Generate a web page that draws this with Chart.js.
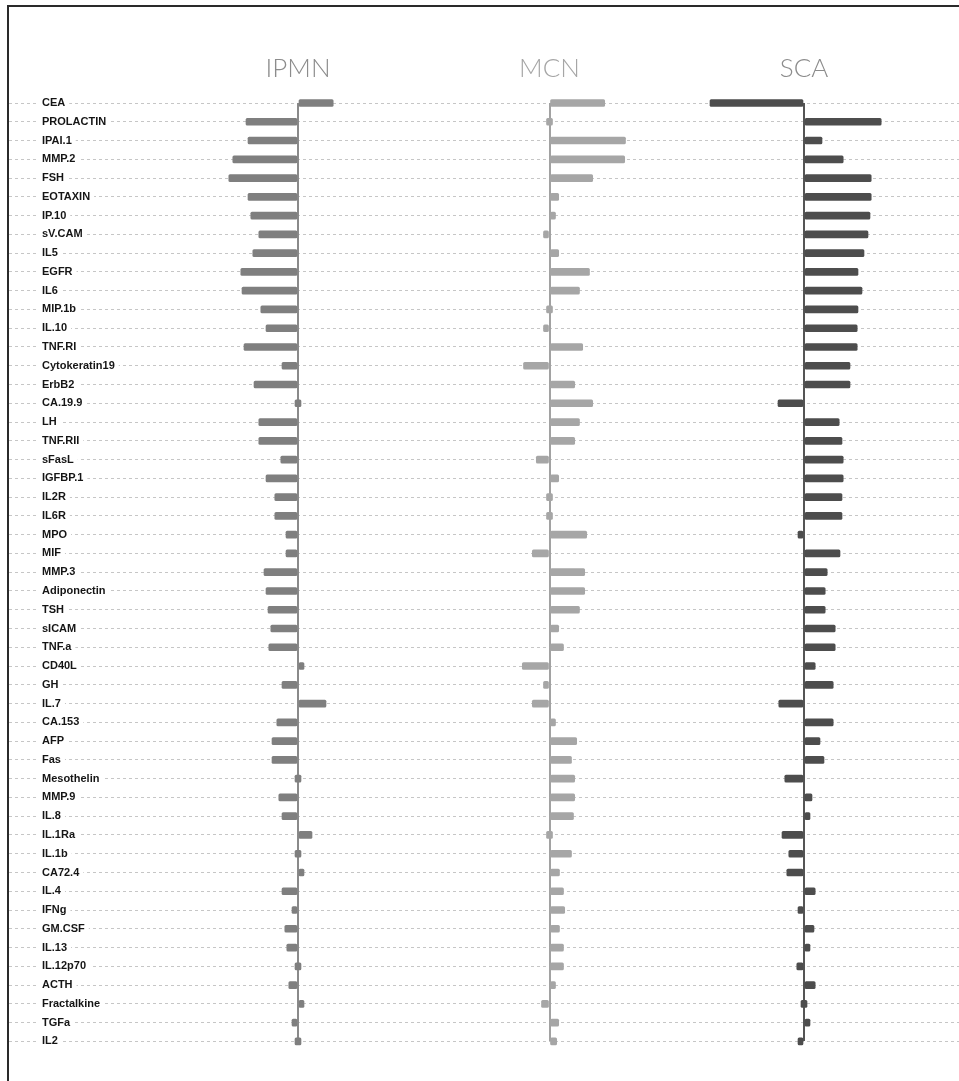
<!DOCTYPE html>
<html>
<head>
<meta charset="utf-8">
<script src="https://cdn.jsdelivr.net/npm/chart.js@4/dist/chart.umd.min.js"></script>
<style>
  html, body { margin: 0; padding: 0; background: #fff; }
  #wrap { position: relative; width: 959px; height: 1081px; overflow: hidden; }
  #frame { position: absolute; left: 7px; top: 5px; right: -10px; bottom: -10px;
           border-top: 2px solid #2a2a2a; border-left: 2px solid #2a2a2a; pointer-events: none; }
  canvas { position: absolute; left: 0; top: 0; }
</style>
</head>
<body>
<div id="wrap">
  <canvas id="chart" width="959" height="1081"></canvas>
  <div id="frame"></div>
</div>
<script>
// Analytes, top to bottom
const categories = [
  'CEA', 'PROLACTIN', 'IPAI.1', 'MMP.2', 'FSH', 'EOTAXIN', 'IP.10', 'sV.CAM', 'IL5', 'EGFR',
  'IL6', 'MIP.1b', 'IL.10', 'TNF.RI', 'Cytokeratin19', 'ErbB2', 'CA.19.9', 'LH', 'TNF.RII', 'sFasL',
  'IGFBP.1', 'IL2R', 'IL6R', 'MPO', 'MIF', 'MMP.3', 'Adiponectin', 'TSH', 'sICAM', 'TNF.a',
  'CD40L', 'GH', 'IL.7', 'CA.153', 'AFP', 'Fas', 'Mesothelin', 'MMP.9', 'IL.8', 'IL.1Ra',
  'IL.1b', 'CA72.4', 'IL.4', 'IFNg', 'GM.CSF', 'IL.13', 'IL.12p70', 'ACTH', 'Fractalkine', 'TGFa',
  'IL2'
];

// Per-panel values (same order as categories)
const ipmnValues = [
  0.88, -1.30, -1.25, -1.63, -1.73, -1.25, -1.18, -0.98, -1.13, -1.43,
  -1.40, -0.93, -0.80, -1.35, -0.40, -1.10, 0, -0.98, -0.98, -0.43,
  -0.80, -0.58, -0.58, -0.30, -0.30, -0.85, -0.80, -0.75, -0.68, -0.73,
  0.08, -0.40, 0.70, -0.53, -0.65, -0.65, 0, -0.48, -0.40, 0.35,
  0, 0.13, -0.40, -0.05, -0.33, -0.28, 0, -0.23, 0.10, -0.15,
  0
];
const mcnValues = [
  1.38, 0, 1.90, 1.88, 1.08, 0.23, 0.05, -0.05, 0.23, 1.00,
  0.75, 0, -0.03, 0.83, -0.65, 0.63, 1.08, 0.75, 0.63, -0.33,
  0.23, 0, 0, 0.93, -0.43, 0.88, 0.88, 0.75, 0.23, 0.35,
  -0.68, -0.08, -0.43, 0.03, 0.68, 0.55, 0.63, 0.63, 0.60, 0,
  0.55, 0.25, 0.35, 0.38, 0.25, 0.35, 0.35, 0.05, -0.20, 0.23,
  0.18
];
const scaValues = [
  -2.35, 1.93, 0.45, 0.98, 1.68, 1.68, 1.65, 1.60, 1.50, 1.35,
  1.45, 1.35, 1.33, 1.33, 1.15, 1.15, -0.65, 0.88, 0.95, 0.98,
  0.98, 0.95, 0.95, -0.10, 0.90, 0.58, 0.53, 0.53, 0.78, 0.78,
  0.28, 0.73, -0.63, 0.73, 0.40, 0.50, -0.48, 0.20, 0.08, -0.55,
  -0.38, -0.43, 0.28, -0.10, 0.25, 0.13, -0.18, 0.28, 0, 0.05,
  -0.05
];

const panelTitles = ['IPMN', 'MCN', 'SCA'];

// Panel styling and placement
const panelSeries = [ipmnValues, mcnValues, scaValues];
const barColors = ['#7f7f7f', '#a6a6a6', '#4d4d4d'];
const zeroLineColors = ['#8a8a8a', '#a2a2a2', '#555555'];
const titleColors = ['#8c8c8c', '#a6a6a6', '#8c8c8c'];
const zeroPixels = [298, 549.5, 804];   // where each panel's zero line sits
const PX_PER_UNIT = 40;
const AREA_LEFT = 9, AREA_RIGHT = 959, AREA_TOP = 103, AREA_BOTTOM = 1045;

const xScales = {};
panelSeries.forEach((_, k) => {
  xScales['x' + k] = {
    type: 'linear',
    position: 'bottom',
    min: -(zeroPixels[k] - AREA_LEFT) / PX_PER_UNIT,
    max: (AREA_RIGHT - zeroPixels[k]) / PX_PER_UNIT,
    afterBuildTicks: (scale) => { scale.ticks = [{ value: 0 }]; },
    afterFit: (scale) => { scale.height = 0; },
    ticks: { display: false },
    grid: { color: zeroLineColors[k], lineWidth: 2, drawTicks: false },
    border: { display: false }
  };
});

const datasets = panelSeries.map((values, k) => ({
  label: panelTitles[k],
  data: values,
  xAxisID: 'x' + k,
  backgroundColor: barColors[k],
  barThickness: 7,
  minBarLength: 6,
  borderRadius: 1.5,
  borderSkipped: false,
  grouped: false,
  clip: false
}));

const panelTitlePlugin = {
  id: 'panelTitles',
  afterDraw(chart) {
    const ctx = chart.ctx;
    ctx.save();
    ctx.font = '300 26px Lato, "Liberation Sans", sans-serif';
    ctx.textAlign = 'center';
    ctx.textBaseline = 'alphabetic';
    panelTitles.forEach((t, k) => {
      ctx.fillStyle = titleColors[k];
      ctx.fillText(t, chart.scales['x' + k].getPixelForValue(0), 77);
    });
    ctx.restore();
  }
};

new Chart(document.getElementById('chart'), {
  type: 'bar',
  data: { labels: categories, datasets },
  options: {
    indexAxis: 'y',
    responsive: false,
    animation: false,
    devicePixelRatio: 1,
    layout: {
      padding: { left: AREA_LEFT, right: 959 - AREA_RIGHT, top: AREA_TOP, bottom: 1081 - AREA_BOTTOM }
    },
    plugins: { legend: { display: false }, tooltip: { enabled: false } },
    scales: Object.assign({
      y: {
        type: 'category',
        position: 'left',
        offset: false,
        afterFit: (scale) => { scale.width = 0; },
        grid: { color: '#c6c6c6', lineWidth: 1, drawTicks: false, offset: false },
        border: { display: false, dash: [3, 3] },
        ticks: {
          autoSkip: false,
          mirror: true,
          crossAlign: 'near',
          padding: 33,
          color: '#151515',
          font: { family: '"Liberation Sans", Arial, sans-serif', size: 11, weight: 'bold' },
          showLabelBackdrop: true,
          backdropColor: '#ffffff',
          backdropPadding: { left: 3, right: 4, top: 1, bottom: 1 }
        }
      }
    }, xScales)
  },
  plugins: [panelTitlePlugin]
});
</script>
</body>
</html>
